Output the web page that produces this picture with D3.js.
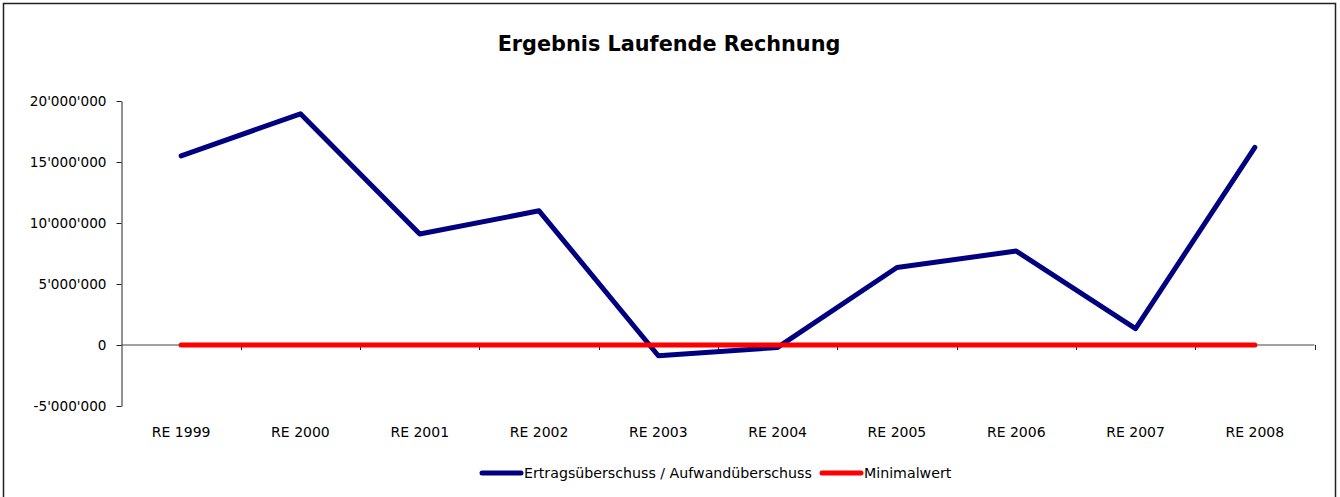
<!DOCTYPE html>
<html>
<head>
<meta charset="utf-8">
<script src="https://cdn.jsdelivr.net/npm/d3@7"></script>
<style>
  html, body { margin: 0; padding: 0; background: #fff; }
  svg { display: block; }
  text { font-family: "DejaVu Sans", sans-serif; fill: #000; }
</style>
</head>
<body>
<svg id="chart" width="1340" height="497"></svg>
<script>
// Jahresrechnungen
const categories = ["RE 1999", "RE 2000", "RE 2001", "RE 2002", "RE 2003",
                    "RE 2004", "RE 2005", "RE 2006", "RE 2007", "RE 2008"];
// Ertragsüberschuss / Aufwandüberschuss (CHF)
const ergebnis = [15500000, 18950000, 9100000, 11000000, -880000,
                  -200000, 6350000, 7700000, 1350000, 16200000];
// Minimalwert
const minimalwert = [0, 0, 0, 0, 0, 0, 0, 0, 0, 0];
const yTicks = [-5000000, 0, 5000000, 10000000, 15000000, 20000000];
const seriesNames = ["Ertragsüberschuss / Aufwandüberschuss", "Minimalwert"];
const seriesColors = ["#000080", "#FF0000"];

const svg = d3.select("#chart");

// outer frame
svg.append("rect")
  .attr("x", 3.5).attr("y", 3.5)
  .attr("width", 1332).attr("height", 500)
  .attr("fill", "none").attr("stroke", "#222").attr("stroke-width", 1.5);

// title
svg.append("text")
  .attr("x", 669).attr("y", 51)
  .attr("text-anchor", "middle")
  .style("font-weight", "bold").style("font-size", "20.8px")
  .text("Ergebnis Laufende Rechnung");

const x = d3.scaleBand().domain(categories).range([121.5, 1314.5]);
const y = d3.scaleLinear().domain([-5000000, 20000000]).range([406, 101]);

const fmt = v => d3.format(",")(v).replace(/,/g, "'").replace("−", "-");

// y axis
const yAxis = svg.append("g")
  .attr("transform", "translate(121.5,0)")
  .call(d3.axisLeft(y).tickValues(yTicks).tickSize(5).tickSizeOuter(0).tickPadding(10).tickFormat(fmt));
yAxis.select(".domain").attr("stroke", "#222");
yAxis.selectAll(".tick line").attr("stroke", "#222");
yAxis.selectAll("text").style("font-size", "13.6px").style("font-family", "DejaVu Sans, sans-serif");

// x axis at zero, ticks on band boundaries
const xAxisG = svg.append("g").attr("transform", `translate(0,${y(0)})`);
xAxisG.append("line")
  .attr("x1", x.range()[0]).attr("x2", x.range()[1])
  .attr("stroke", "#444").attr("stroke-width", 1);
const boundaries = categories.map(c => x(c)).concat([x.range()[1]]).slice(1);
xAxisG.selectAll("line.tk").data(boundaries).join("line")
  .attr("class", "tk")
  .attr("x1", d => Math.round(d) + 0.5).attr("x2", d => Math.round(d) + 0.5)
  .attr("y1", 0).attr("y2", 5)
  .attr("stroke", "#222");

// category labels
svg.append("g").selectAll("text").data(categories).join("text")
  .attr("x", d => x(d) + x.bandwidth() / 2)
  .attr("y", 437)
  .attr("text-anchor", "middle")
  .style("font-size", "14px")
  .text(d => d);

const line = d3.line()
  .x((d, i) => x(categories[i]) + x.bandwidth() / 2)
  .y(d => y(d));

[ergebnis, minimalwert].forEach((vals, k) => {
  svg.append("path")
    .datum(vals)
    .attr("d", line)
    .attr("fill", "none")
    .attr("stroke", seriesColors[k])
    .attr("stroke-width", 5)
    .attr("stroke-linejoin", "round")
    .attr("stroke-linecap", "round");
});

// legend
const legendItems = [
  { name: seriesNames[0], color: seriesColors[0], x: 482 },
  { name: seriesNames[1], color: seriesColors[1], x: 822 }
];
const lg = svg.append("g");
legendItems.forEach(it => {
  lg.append("line")
    .attr("x1", it.x).attr("x2", it.x + 39)
    .attr("y1", 473).attr("y2", 473)
    .attr("stroke", it.color).attr("stroke-width", 5)
    .attr("stroke-linecap", "round");
  lg.append("text")
    .attr("x", it.x + 42).attr("y", 478)
    .style("font-size", "14.2px")
    .text(it.name);
});
</script>
</body>
</html>
